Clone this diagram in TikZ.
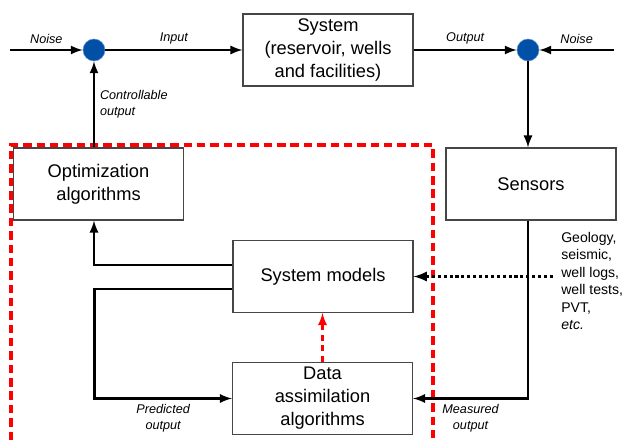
\documentclass[tikz,border=0pt]{standalone}
\usepackage{fontspec}
\setmainfont{Liberation Sans}
\usetikzlibrary{arrows, positioning, calc}
\definecolor{dotblue}{RGB}{0,80,168}
\definecolor{boxgray}{RGB}{70,70,70}

\begin{document}
\begin{tikzpicture}[x=0.025cm, y=-0.025cm,
  box/.style={draw=boxgray, line width=0.8pt, minimum width=4.25cm, minimum height=1.8cm, align=center, font=\fontsize{13}{16.3}\selectfont},
  sumdot/.style={circle, fill=dotblue, draw=dotblue!60, line width=0.4pt, minimum size=0.55cm, inner sep=0pt},
  flow/.style={-latex, line width=1.9pt},
  lbl/.style={font=\fontsize{9}{11.4}\selectfont\itshape, align=center}]
\useasboundingbox (0,0) rectangle (624,440);

% Plant loop
\node[sumdot] (sumIn) at (94,50) {};
\node[box] (sys) at (328,50) {System\\(reservoir, wells\\and facilities)};
\node[sumdot] (sumOut) at (528,50) {};
\coordinate (noiseIn) at (10,50);
\coordinate (noiseOut) at (614,50);

% Estimation and control blocks
\node[box] (opt) at (98.5,184) {Optimization\\algorithms};
\node[box] (sens) at (531,184) {Sensors};
\node[box, minimum width=4.5cm] (sysm) at (323,276.5) {System models};
\node[box, minimum width=4.5cm] (dass) at (322.5,398.5) {Data\\assimilation\\algorithms};
\node[anchor=west, align=left, inner xsep=0.2cm, font=\fontsize{10}{12.5}\selectfont] (data) at (553,281)
  {Geology,\\seismic,\\well logs,\\well tests,\\PVT,\\\textit{etc.}};

% Red dashed frame
\draw[red, line width=2.4pt, dash pattern=on 6pt off 3.5pt] (11,440) -- (11,145) -- (433,145) -- (433,440);

% Connectors
\draw[flow] (noiseIn) -- (sumIn) node[lbl, midway, above] {Noise};
\draw[flow] (sumIn) -- (sys) node[lbl, midway, above] {Input};
\draw[flow] (sys) -- (sumOut) node[lbl, midway, above] {Output};
\draw[flow] (noiseOut) -- (sumOut) node[lbl, midway, above] {Noise};
\draw[flow] (sumOut) -- (sumOut |- sens.north);
\draw[flow] (opt.north -| sumIn) -- (sumIn) node[lbl, midway, right, align=left] {Controllable\\output};
\draw[flow] ($(sysm.west)+(0,-11.5)$) -| (opt.south -| sumIn);
\draw[flow] ($(sysm.west)+(0,12.5)$) -- ++(-138,0) |- (dass.west) node[lbl, pos=0.75, below] {Predicted\\output};
\draw[flow] (sens.south -| sumOut) |- (dass.east) node[lbl, pos=0.75, below] {Measured\\output};
\draw[-latex, line width=2.2pt, dash pattern=on 2.2pt off 2pt] (data.west |- sysm.east) -- (sysm.east);
\draw[-latex, red, line width=1.9pt, dash pattern=on 4.5pt off 3pt] (dass.north) -- (dass.north |- sysm.south);
\end{tikzpicture}
\end{document}
